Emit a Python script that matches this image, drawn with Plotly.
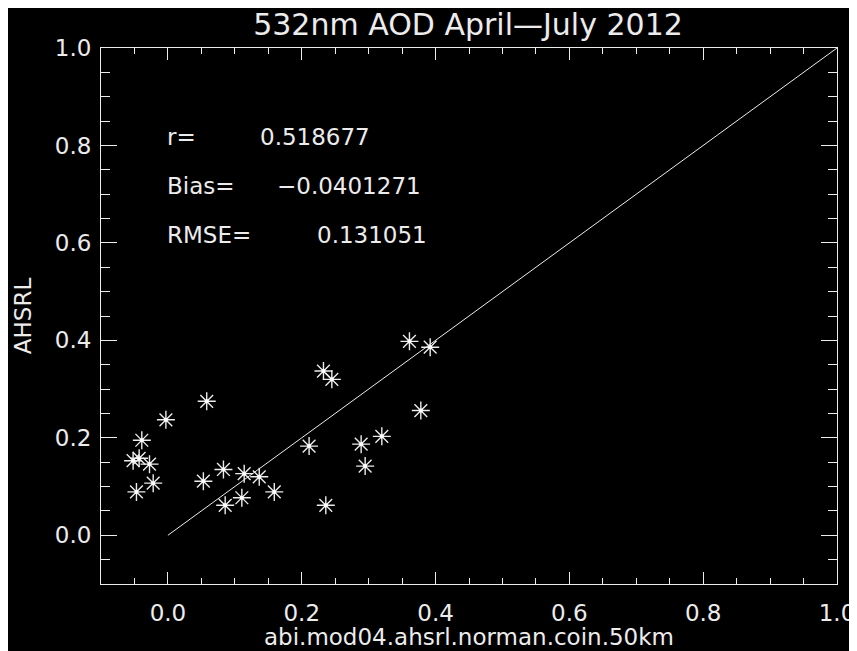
import plotly.graph_objects as go

# Data (x: abi.mod04, y: AHSRL)
x_vals = [0.058, -0.003, -0.039, -0.052, -0.043, -0.0275, -0.022, -0.047,
          0.053, 0.083, 0.114, 0.1365, 0.159, 0.1105, 0.0856,
          0.361, 0.392, 0.2325, 0.245, 0.378, 0.3197, 0.2888, 0.211, 0.2948, 0.236]
y_vals = [0.275, 0.237, 0.195, 0.153, 0.158, 0.146, 0.107, 0.089,
          0.111, 0.135, 0.1265, 0.120, 0.089, 0.077, 0.0615,
          0.398, 0.386, 0.337, 0.320, 0.256, 0.203, 0.187, 0.183, 0.142, 0.0615]
one_to_one = [0.0, 1.0]

stat_labels = ["r=", "Bias=", "RMSE="]
stat_values = ["0.518677", "\u22120.0401271", "0.131051"]
stat_rows_y = [0.8, 0.7, 0.6]
stat_value_x = [0.139, 0.165, 0.224]

tick_vals = [0.0, 0.2, 0.4, 0.6, 0.8, 1.0]
tick_text = ["0.0", "0.2", "0.4", "0.6", "0.8", "1.0"]

x_title = "abi.mod04.ahsrl.norman.coin.50km"
y_title = "AHSRL"
main_title = "532nm AOD April\u2014July 2012"

FONT = "DejaVu Sans"
FG = "#ececec"

fig = go.Figure()
fig.add_trace(go.Scatter(x=one_to_one, y=one_to_one, mode="lines",
                         line=dict(color=FG, width=1), hoverinfo="skip"))
fig.add_trace(go.Scatter(x=x_vals, y=y_vals, mode="markers",
                         marker=dict(symbol="asterisk-open", size=15, color=FG,
                                     line=dict(color=FG, width=1.4))))
fig.add_trace(go.Scatter(x=x_vals, y=y_vals, mode="markers",
                         marker=dict(symbol="circle", size=4, color="white",
                                     line=dict(width=0))))

for lab, val, yy, vx in zip(stat_labels, stat_values, stat_rows_y, stat_value_x):
    fig.add_annotation(x=0.0, y=yy, xref="x", yref="y", text=lab, showarrow=False,
                       xanchor="left", yanchor="bottom", yshift=-7, xshift=-3,
                       font=dict(family=FONT, size=23, color=FG))
    fig.add_annotation(x=vx, y=yy, xref="x", yref="y", text=val, showarrow=False,
                       xanchor="left", yanchor="bottom", yshift=-7, xshift=-3,
                       font=dict(family=FONT, size=23, color=FG))

# x-axis title as an annotation below the plot
fig.add_annotation(x=0.5, y=-53 / 536, xref="paper", yref="paper", text=x_title,
                   showarrow=False, xanchor="center", yanchor="middle",
                   font=dict(family=FONT, size=23, color=FG))

axis_common = dict(showline=True, linecolor=FG, linewidth=1, mirror="ticks",
                   ticks="inside", tickcolor=FG, tickwidth=1,
                   showgrid=False, zeroline=False, automargin=False,
                   tickvals=tick_vals, ticktext=tick_text,
                   tickfont=dict(family=FONT, size=23, color=FG))

fig.update_xaxes(range=[-0.1, 1.0], ticklen=12, ticklabelstandoff=8,
                 minor=dict(ticks="inside", ticklen=6, dtick=0.05, tick0=0,
                            tickcolor=FG, tickwidth=1, showgrid=False),
                 **axis_common)
fig.update_yaxes(range=[-0.1, 1.0], ticklen=16, ticklabelstandoff=4,
                 minor=dict(ticks="inside", ticklen=9, dtick=0.05, tick0=0,
                            tickcolor=FG, tickwidth=1, showgrid=False),
                 title=dict(text=y_title, standoff=16,
                            font=dict(family=FONT, size=23, color=FG)),
                 **axis_common)

# page body has an 8px offset, so margins are shifted accordingly
fig.update_layout(
    width=857, height=651,
    margin=dict(l=93, r=28, t=40, b=75),
    paper_bgcolor="black", plot_bgcolor="black",
    showlegend=False,
    title=dict(text=main_title, x=460 / 857, xanchor="center",
               y=1 - 16 / 651, yanchor="middle", automargin=False,
               font=dict(family=FONT, size=30, color=FG)),
)

fig.write_html("out.html")
